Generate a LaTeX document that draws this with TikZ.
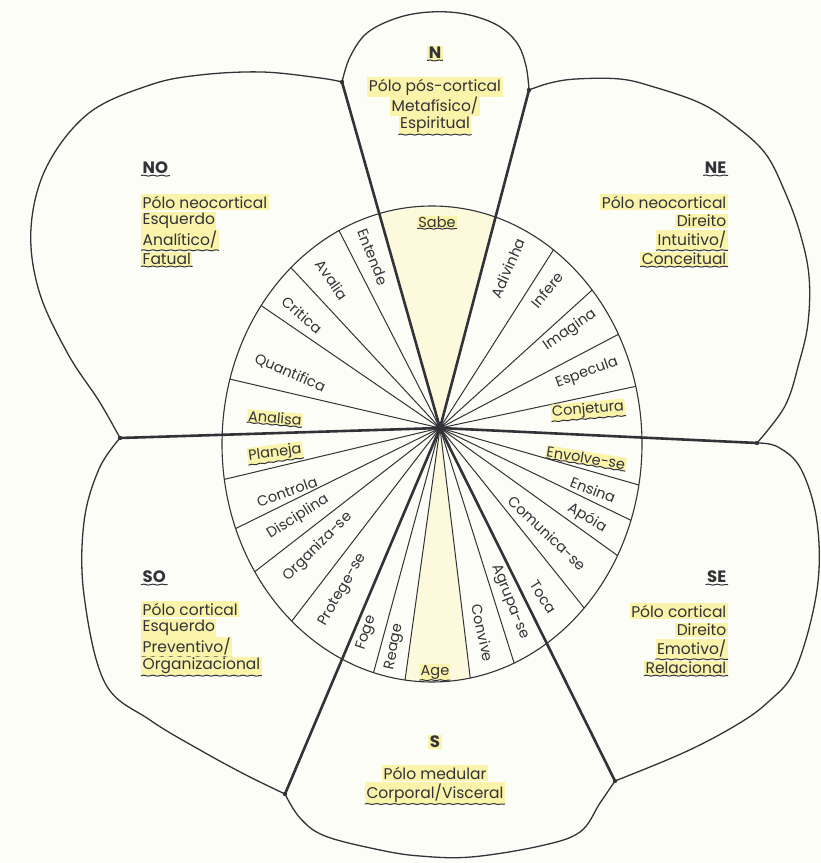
\documentclass[tikz,border=0pt]{standalone}
\usepackage{fontspec}
\setmainfont{Poppins}
\usetikzlibrary{decorations.pathmorphing}

\definecolor{ink}{RGB}{50,50,56}
\definecolor{hl}{RGB}{250,243,170}
\definecolor{hlpale}{RGB}{252,249,220}
\definecolor{paper}{RGB}{253,253,247}

\tikzset{
  outline/.style={line width=1.3pt, draw=ink},
  spoke/.style={line width=1pt, draw=ink},
  axis/.style={line width=2.6pt, draw=ink, line cap=round},
  pole/.style={font=\fontsize{16.5}{16.5}\selectfont\bfseries, text=ink, inner sep=1.5pt},
  desc/.style={font=\fontsize{15.5}{15.5}\selectfont, text=ink, inner sep=1.5pt},
  marked/.style={fill=hl},
  verb/.style={font=\fontsize{14.5}{14.5}\selectfont, text=ink, inner sep=1pt},
  scrawl/.style={line width=1pt, draw=ink, decorate,
    decoration={snake, amplitude=.5pt, segment length=9pt}},
  ul/.style={append after command={(\tikzlastnode.south west) edge[scrawl] (\tikzlastnode.south east)}},
}

\begin{document}
\begin{tikzpicture}[x=1pt, y=1pt]
  \fill[paper] (0,0) rectangle (821,863);
  \useasboundingbox (0,0) rectangle (821,863);
  \coordinate (hub) at (440,435);
  \coordinate (nw) at (342,781);
  \coordinate (ne) at (529,773);
  \coordinate (w) at (120,425);
  \coordinate (e) at (757,420);
  \coordinate (sw) at (285,69);
  \coordinate (se) at (615,82);

  % the wheel
  \begin{scope}
    \clip (432,419) ellipse [x radius=210, y radius=238];
    \fill[hlpale] (hub) -- (ne) -- (nw) -- cycle;
    \fill[hlpale] (hub) -- +(262.1:400) -- +(276.9:400) -- cycle;
    \foreach \a in {117.1,132.9,145.6,166.9,193.4,206.2,217.8,232.5,254.8,262.1,
                    276.9,287.5,308.7,324.3,334.2,344.0,12.0,27.7,42.2,57.5}
      \draw[spoke] (hub) -- +(\a:400);
  \end{scope}
  \draw[outline, line width=1.1pt] (432,419) ellipse [x radius=210, y radius=238];
  \foreach \j in {nw,ne,w,e,sw,se}
    \draw[axis] (hub) -- (\j);
  \fill[ink] (hub) circle (5);

  % petals
  \draw[outline] plot[smooth, tension=0.6] coordinates {(nw) (350,806) (367,830)
    (397,845) (430,851) (465,849) (497,838) (517,820) (526,797) (ne)};
  \draw[outline] plot[smooth, tension=0.6] coordinates {(nw) (320,785) (262,791)
    (200,788) (150,778) (89,750) (47,697) (31,635) (39,572) (68,509) (99,462) (w)};
  \draw[outline] plot[smooth, tension=0.6] coordinates {(ne) (550,780) (576,784)
    (620,784) (654,776) (700,760) (733,739) (765,710) (785,671) (800,630)
    (809,587) (808,540) (799,500) (785,457) (e)};
  \draw[outline] plot[smooth, tension=0.6] coordinates {(e) (778,416) (801,394)
    (817,341) (817,273) (796,195) (767,160) (733,136) (683,110) (se)};
  \draw[outline] plot[smooth, tension=0.6] coordinates {(se) (600,60) (580,31)
    (540,17) (471,6) (420,7) (380,13) (325,27) (300,45) (sw)};
  \draw[outline] plot[smooth, tension=0.6] coordinates {(sw) (246,88) (200,113)
    (150,143) (105,180) (84,268) (84,341) (99,394) (w)};
  \foreach \j in {nw,ne,w,e,sw,se}
    \fill[ink] (\j) circle (2.2);

  % verbs round the wheel
  \foreach \nm/\txt/\x/\y/\r in {entende/Entende/373/606/-68.5, avalia/Avalia/332/583/-55,
      critica/Critica/302/548/-40.7, quantifica/Quantifica/290/490/-23.7,
      controla/Controla/287/371/19.8, disciplina/Disciplina/298/346/32,
      organiza/Organiza-se/318/316/45, protege/Protege-se/343/273/59.8,
      foge/Foge/367/230/70.9, reage/Reage/395/216/78.5,
      convive/Convive/483/230/-77.8, agrupa/Agrupa-se/510/261/-68,
      toca/Toca/543/266/-57.4, comunica/Comunica-se/547/330/-43.5,
      apoia/Apóia/587/345/-30.7, ensina/Ensina/593/373/-20.9,
      especula/Especula/587/490/19.9, imagina/Imagina/570/533/35,
      infere/Infere/547/573/50, adivinha/Adivinha/508/595/66.4}
    \node[verb, rotate=\r] (\nm) at (\x,\y) {\txt};
  \node[verb, marked, ul] (sabe) at (437,641) {Sabe};
  \node[verb, marked, ul] (age) at (435,191) {Age};
  \node[verb, marked, ul, rotate=-5] (analisa) at (275,445) {Analisa};
  \node[verb, marked, ul, rotate=7.6] (planeja) at (275,410) {Planeja};
  \node[verb, marked, ul, rotate=-9.3] (envolve) at (586,405) {Envolve-se};
  \node[verb, marked, ul, rotate=4.7] (conjetura) at (588,453) {Conjetura};

  % N
  \node[pole, marked, ul] (Nh) at (435,810) {N};
  \node[desc, marked] (N1) at (435,776) {Pólo pós-cortical};
  \node[desc, marked] (N2) at (435,757) {Metafísico/};
  \node[desc, marked, ul] (N3) at (435,738) {Espiritual};
  % NO
  \node[pole, ul, anchor=west] (NOh) at (141,695) {NO};
  \node[desc, marked, anchor=west] (NO1) at (141,661) {Pólo neocortical};
  \node[desc, marked, anchor=west] (NO2) at (141,642) {Esquerdo};
  \node[desc, marked, ul, anchor=west] (NO3) at (141,623) {Analítico/};
  \node[desc, marked, ul, anchor=west] (NO4) at (141,604) {Fatual};
  % NE
  \node[pole, ul, anchor=east] (NEh) at (728,695) {NE};
  \node[desc, marked, anchor=east] (NE1) at (728,661) {Pólo neocortical};
  \node[desc, marked, anchor=east] (NE2) at (728,642) {Direito};
  \node[desc, marked, ul, anchor=east] (NE3) at (728,623) {Intuitivo/};
  \node[desc, marked, ul, anchor=east] (NE4) at (728,604) {Conceitual};
  % SO
  \node[pole, ul, anchor=west] (SOh) at (141,286) {SO};
  \node[desc, marked, anchor=west] (SO1) at (141,254) {Pólo cortical};
  \node[desc, marked, anchor=west] (SO2) at (141,235) {Esquerdo};
  \node[desc, marked, ul, anchor=west] (SO3) at (141,216) {Preventivo/};
  \node[desc, marked, ul, anchor=west] (SO4) at (141,197) {Organizacional};
  % SE
  \node[pole, ul, anchor=east] (SEh) at (728,286) {SE};
  \node[desc, marked, anchor=east] (SE1) at (728,252) {Pólo cortical};
  \node[desc, marked, anchor=east] (SE2) at (728,233) {Direito};
  \node[desc, marked, ul, anchor=east] (SE3) at (728,214) {Emotivo/};
  \node[desc, marked, ul, anchor=east] (SE4) at (728,195) {Relacional};
  % S
  \node[pole, marked] (Sh) at (435,121) {S};
  \node[desc, marked] (S1) at (435,90) {Pólo medular};
  \node[desc, marked, ul] (S2) at (435,70) {Corporal/Visceral};
\end{tikzpicture}
\end{document}
